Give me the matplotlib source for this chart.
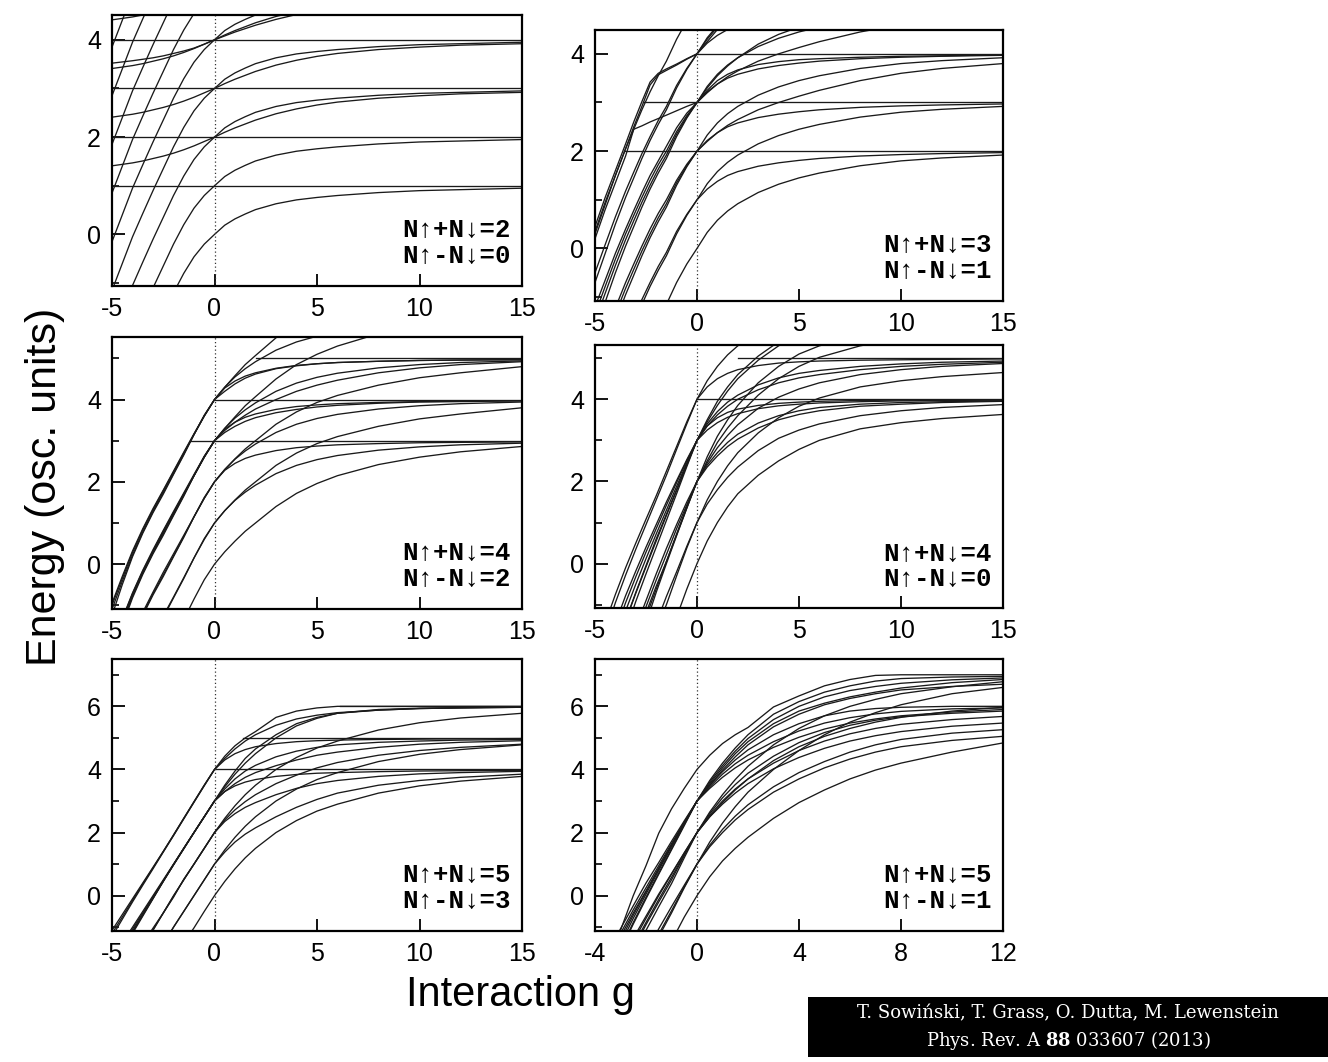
import matplotlib
matplotlib.use("Agg")
import matplotlib.pyplot as plt
from matplotlib.patches import Rectangle

plt.rcParams["font.family"] = ["Liberation Sans", "DejaVu Sans"]
plt.rcParams["axes.unicode_minus"] = False
plt.rcParams["mathtext.fontset"] = "custom"
plt.rcParams["mathtext.rm"] = "DejaVu Serif"
plt.rcParams["mathtext.bf"] = "DejaVu Serif:bold"

# ============================================================
# Data (energies)
# ============================================================
g_std = [-5, -4.5, -4, -3.5, -3, -2.5, -2, -1.5, -1, -0.5, 0, 0.5, 1, 1.5, 2, 3, 4, 5, 6, 8, 10, 12, 15]
g_tr = [-5, -4.5, -4, -3.5, -3.1, -2.7, -2.3, -1.9, -1.5, -1, -0.5, 0, 0.5, 1, 1.5, 2, 3, 4, 5, 6, 8, 10, 12, 15]
g_br = [-4, -3.5, -3, -2.5, -2, -1.5, -1, -0.5, 0, 0.5, 1, 1.5, 2, 3, 4, 5, 6, 7, 8, 10, 12]

# N=2, N_up-N_down=0
tl_curves = [
    [-4.15, -3.6, -3.05, -2.57, -2.1, -1.65, -1.2, -0.8, -0.46, -0.2, 0, 0.19, 0.32, 0.42, 0.51, 0.63, 0.71, 0.76, 0.8, 0.86, 0.9, 0.92, 0.95],
    [-3.15, -2.6, -2.05, -1.57, -1.1, -0.65, -0.2, 0.2, 0.54, 0.8, 1, 1.19, 1.32, 1.42, 1.51, 1.63, 1.71, 1.76, 1.8, 1.86, 1.9, 1.92, 1.95],
    [-2.15, -1.6, -1.05, -0.57, -0.1, 0.35, 0.8, 1.2, 1.54, 1.8, 2, 2.19, 2.32, 2.42, 2.51, 2.63, 2.71, 2.76, 2.8, 2.86, 2.9, 2.92, 2.95],
    [-1.15, -0.6, -0.05, 0.43, 0.9, 1.35, 1.8, 2.2, 2.54, 2.8, 3, 3.19, 3.32, 3.42, 3.51, 3.63, 3.71, 3.76, 3.8, 3.86, 3.9, 3.92, 3.95],
    [-0.15, 0.4, 0.95, 1.43, 1.9, 2.35, 2.8, 3.2, 3.54, 3.8, 4, 4.19, 4.32, 4.42, 4.51, 4.63, 4.71, 4.76, 4.8, 4.86, 4.9, 4.92, 4.95],
    [0.85, 1.4, 1.95, 2.43, 2.9, 3.35, 3.8, 4.2, 4.54, 4.8, 5, 5.19, 5.32, 5.42, 5.51, 5.63, 5.71, 5.76, 5.8, 5.86, 5.9, 5.92, 5.95],
    [1.85, 2.4, 2.95, 3.43, 3.9, 4.35, 4.8, 5.2, 5.54, 5.8, 6, 6.19, 6.32, 6.42, 6.51, 6.63, 6.71, 6.76, 6.8, 6.86, 6.9, 6.92, 6.95],
    [2.85, 3.4, 3.95, 4.43, 4.9, 5.35, 5.8, 6.2, 6.54, 6.8, 7, 7.19, 7.32, 7.42, 7.51, 7.63, 7.71, 7.76, 7.8, 7.86, 7.9, 7.92, 7.95],
    [3.85, 4.4, 4.95, 5.43, 5.9, 6.35, 6.8, 7.2, 7.54, 7.8, 8, 8.19, 8.32, 8.42, 8.51, 8.63, 8.71, 8.76, 8.8, 8.86, 8.9, 8.92, 8.95],
    [1.41, 1.44, 1.47, 1.51, 1.56, 1.61, 1.67, 1.74, 1.82, 1.91, 2.0, 2.1, 2.19, 2.27, 2.35, 2.48, 2.58, 2.66, 2.72, 2.8, 2.85, 2.89, 2.92],
    [2.41, 2.44, 2.47, 2.51, 2.56, 2.61, 2.67, 2.74, 2.82, 2.91, 3.0, 3.1, 3.19, 3.27, 3.35, 3.48, 3.58, 3.66, 3.72, 3.8, 3.85, 3.89, 3.92],
    [3.41, 3.44, 3.47, 3.51, 3.56, 3.61, 3.67, 3.74, 3.82, 3.91, 4.0, 4.1, 4.19, 4.27, 4.35, 4.48, 4.58, 4.66, 4.72, 4.8, 4.85, 4.89, 4.92],
    [4.41, 4.44, 4.47, 4.51, 4.56, 4.61, 4.67, 4.74, 4.82, 4.91, 5.0, 5.1, 5.19, 5.27, 5.35, 5.48, 5.58, 5.66, 5.72, 5.8, 5.85, 5.89, 5.92],
    [3.52, 3.545, 3.57, 3.6, 3.63, 3.67, 3.72, 3.77, 3.83, 3.91, 4.0, 4.08, 4.16, 4.23, 4.3, 4.42, 4.52, 4.6, 4.66, 4.75, 4.81, 4.85, 4.9],
]
tl_levels = [1, 2, 3, 4]
tl_level_from = [-5, -5, -5, -5]

# N=3, N_up-N_down=1
tr_curves = [
    [-4.7, -4.1, -3.5, -2.95, -2.55, -2.15, -1.78, -1.45, -1.15, -0.7, -0.32, 0, 0.33, 0.58, 0.77, 0.92, 1.15, 1.32, 1.45, 1.55, 1.7, 1.8, 1.86, 1.92],
    [-3.7, -3.1, -2.5, -1.95, -1.55, -1.15, -0.78, -0.45, -0.15, 0.3, 0.68, 1, 1.33, 1.58, 1.77, 1.92, 2.15, 2.32, 2.45, 2.55, 2.7, 2.8, 2.86, 2.92],
    [-3.5, -2.92, -2.35, -1.82, -1.43, -1.05, -0.7, -0.37, -0.08, 0.35, 0.7, 1, 1.22, 1.38, 1.5, 1.58, 1.69, 1.76, 1.81, 1.85, 1.9, 1.93, 1.95, 1.97],
    [-2.7, -2.1, -1.5, -0.95, -0.55, -0.15, 0.22, 0.55, 0.85, 1.3, 1.68, 2, 2.33, 2.58, 2.77, 2.92, 3.15, 3.32, 3.45, 3.55, 3.7, 3.8, 3.86, 3.92],
    [-2.5, -1.92, -1.35, -0.82, -0.43, -0.05, 0.3, 0.63, 0.92, 1.35, 1.7, 2, 2.22, 2.38, 2.5, 2.58, 2.69, 2.76, 2.81, 2.85, 2.9, 2.93, 2.95, 2.97],
    [-2.35, -1.78, -1.22, -0.7, -0.32, 0.05, 0.4, 0.72, 1.0, 1.4, 1.73, 2, 2.2, 2.38, 2.53, 2.65, 2.85, 3.0, 3.13, 3.25, 3.45, 3.6, 3.7, 3.8],
    [-1.7, -1.1, -0.5, 0.05, 0.45, 0.85, 1.22, 1.55, 1.85, 2.3, 2.68, 3, 3.33, 3.58, 3.77, 3.92, 4.15, 4.32, 4.45, 4.55, 4.7, 4.8, 4.86, 4.92],
    [-1.5, -0.92, -0.35, 0.18, 0.57, 0.95, 1.3, 1.63, 1.92, 2.35, 2.7, 3, 3.22, 3.38, 3.5, 3.58, 3.69, 3.76, 3.81, 3.85, 3.9, 3.93, 3.95, 3.97],
    [-1.35, -0.78, -0.22, 0.3, 0.68, 1.05, 1.4, 1.72, 2.0, 2.4, 2.73, 3, 3.2, 3.38, 3.53, 3.65, 3.85, 4.0, 4.13, 4.25, 4.45, 4.6, 4.7, 4.8],
    [-1.2, -0.65, -0.1, 0.4, 0.78, 1.15, 1.5, 1.8, 2.1, 2.48, 2.78, 3, 3.25, 3.45, 3.58, 3.67, 3.78, 3.84, 3.88, 3.9, 3.93, 3.95, 3.96, 3.98],
    [0.2, 0.8, 1.35, 1.9, 2.45, 2.52, 2.6, 2.67, 2.74, 2.83, 2.92, 3, 3.3, 3.55, 3.75, 3.92, 4.2, 4.4, 4.55, 4.65, 4.78, 4.85, 4.9, 4.93],
    [0.35, 0.95, 1.5, 2.05, 2.5, 2.92, 3.36, 3.57, 3.66, 3.77, 3.89, 4, 4.3, 4.55, 4.78, 5.0, 5.3, 5.5, 5.65, 5.75, 5.9, 6.0, 6.05, 6.1],
    [0.45, 1.05, 1.6, 2.15, 2.6, 3.02, 3.42, 3.6, 3.69, 3.79, 3.9, 4, 4.25, 4.5, 4.72, 4.9, 5.2, 5.4, 5.55, 5.65, 5.8, 5.9, 5.95, 6.0],
    [-0.7, -0.1, 0.5, 1.05, 1.45, 1.85, 2.22, 2.55, 2.85, 3.3, 3.68, 4, 4.33, 4.58, 4.77, 4.92, 5.15, 5.32, 5.45, 5.55, 5.7, 5.8, 5.86, 5.92],
    [-0.5, 0.08, 0.65, 1.18, 1.57, 1.95, 2.3, 2.63, 2.92, 3.35, 3.7, 4, 4.22, 4.38, 4.5, 4.58, 4.69, 4.76, 4.81, 4.85, 4.9, 4.93, 4.95, 4.97],
    [0.3, 0.9, 1.5, 2.05, 2.45, 2.85, 3.22, 3.55, 3.85, 4.3, 4.68, 5, 5.33, 5.58, 5.77, 5.92, 6.15, 6.32, 6.45, 6.55, 6.7, 6.8, 6.86, 6.92],
]
tr_levels = [2, 3, 4]
tr_level_from = [-3.6, -2.63, 0]

# N=4, N_up-N_down=2
ml_curves = [
    [-5.25, -4.5, -3.82, -3.25, -2.75, -2.3, -1.82, -1.35, -0.85, -0.38, 0, 0.3, 0.56, 0.8, 1.0, 1.4, 1.72, 1.96, 2.15, 2.42, 2.6, 2.73, 2.86],
    [-4.1, -3.42, -2.78, -2.22, -1.72, -1.26, -0.8, -0.33, 0.15, 0.6, 1, 1.3, 1.55, 1.75, 1.92, 2.2, 2.4, 2.54, 2.64, 2.77, 2.85, 2.9, 2.94],
    [-4.25, -3.5, -2.82, -2.25, -1.75, -1.3, -0.82, -0.35, 0.15, 0.62, 1, 1.3, 1.56, 1.8, 2.0, 2.4, 2.7, 2.93, 3.1, 3.35, 3.53, 3.65, 3.8],
    [-3.0, -2.35, -1.72, -1.17, -0.68, -0.2, 0.25, 0.7, 1.15, 1.6, 2, 2.28, 2.45, 2.57, 2.65, 2.76, 2.83, 2.87, 2.9, 2.93, 2.95, 2.96, 2.97],
    [-3.1, -2.42, -1.78, -1.22, -0.72, -0.26, 0.2, 0.67, 1.15, 1.6, 2, 2.3, 2.55, 2.75, 2.92, 3.2, 3.4, 3.54, 3.64, 3.77, 3.85, 3.9, 3.94],
    [-3.25, -2.5, -1.82, -1.25, -0.75, -0.3, 0.18, 0.65, 1.15, 1.62, 2, 2.3, 2.56, 2.8, 3.0, 3.4, 3.7, 3.93, 4.1, 4.35, 4.53, 4.65, 4.8],
    [-2.0, -1.35, -0.72, -0.17, 0.32, 0.8, 1.25, 1.7, 2.15, 2.6, 3, 3.2, 3.35, 3.47, 3.56, 3.68, 3.76, 3.82, 3.86, 3.91, 3.94, 3.95, 3.97],
    [-2.05, -1.4, -0.77, -0.2, 0.3, 0.78, 1.24, 1.7, 2.15, 2.6, 3, 3.28, 3.45, 3.57, 3.65, 3.76, 3.83, 3.87, 3.9, 3.93, 3.95, 3.96, 3.97],
    [-2.1, -1.42, -0.78, -0.22, 0.28, 0.74, 1.2, 1.67, 2.15, 2.6, 3, 3.3, 3.55, 3.75, 3.92, 4.2, 4.4, 4.54, 4.64, 4.77, 4.85, 4.9, 4.94],
    [-2.25, -1.5, -0.82, -0.25, 0.25, 0.7, 1.18, 1.65, 2.15, 2.62, 3, 3.3, 3.58, 3.85, 4.07, 4.5, 4.85, 5.1, 5.3, 5.6, 5.8, 5.9, 6.0],
    [-2.0, -1.33, -0.7, -0.15, 0.35, 0.82, 1.28, 1.73, 2.18, 2.62, 3, 3.25, 3.45, 3.62, 3.77, 4.0, 4.2, 4.35, 4.47, 4.65, 4.77, 4.85, 4.92],
    [-1.25, -0.5, 0.18, 0.75, 1.25, 1.7, 2.18, 2.65, 3.15, 3.62, 4, 4.3, 4.58, 4.85, 5.07, 5.5, 5.9, 6.2, 6.4, 6.7, 6.9, 7.0, 7.1],
    [-1.1, -0.42, 0.22, 0.78, 1.28, 1.74, 2.2, 2.67, 3.15, 3.6, 4, 4.3, 4.55, 4.75, 4.92, 5.2, 5.4, 5.54, 5.64, 5.77, 5.85, 5.9, 5.94],
    [-1.0, -0.35, 0.28, 0.83, 1.32, 1.78, 2.24, 2.7, 3.15, 3.6, 4, 4.28, 4.45, 4.57, 4.65, 4.76, 4.83, 4.87, 4.9, 4.93, 4.95, 4.96, 4.97],
    [-0.95, -0.3, 0.32, 0.86, 1.35, 1.8, 2.26, 2.72, 3.17, 3.6, 4, 4.2, 4.38, 4.52, 4.62, 4.75, 4.82, 4.87, 4.9, 4.93, 4.95, 4.96, 4.97],
]
ml_levels = [3, 4, 5]
ml_level_from = [-1.2, 0, 2]

# N=4, N_up-N_down=0
mr_curves = [
    [-8, -7, -6, -5, -4.1, -3.3, -2.6, -1.95, -1.3, -0.62, 0, 0.55, 1.0, 1.38, 1.7, 2.15, 2.5, 2.78, 3.0, 3.28, 3.43, 3.53, 3.63],
    [-6.3, -5.4, -4.5, -3.7, -2.9, -2.15, -1.45, -0.8, -0.2, 0.42, 1, 1.45, 1.8, 2.1, 2.35, 2.75, 3.05, 3.25, 3.4, 3.6, 3.72, 3.8, 3.87],
    [-7, -6, -5, -4, -3.1, -2.3, -1.6, -1.0, -0.3, 0.38, 1, 1.55, 2.0, 2.38, 2.7, 3.18, 3.55, 3.83, 4.03, 4.3, 4.45, 4.55, 4.65],
    [-5, -4.15, -3.3, -2.5, -1.75, -1.05, -0.4, 0.22, 0.85, 1.43, 2, 2.4, 2.7, 2.95, 3.15, 3.42, 3.6, 3.72, 3.8, 3.88, 3.92, 3.94, 3.96],
    [-5.3, -4.4, -3.55, -2.75, -2.0, -1.3, -0.62, 0.05, 0.72, 1.38, 2, 2.35, 2.62, 2.85, 3.03, 3.3, 3.5, 3.63, 3.72, 3.83, 3.88, 3.92, 3.95],
    [-6, -5, -4, -3.1, -2.25, -1.45, -0.7, 0.0, 0.68, 1.35, 2, 2.45, 2.82, 3.12, 3.38, 3.78, 4.05, 4.25, 4.4, 4.6, 4.72, 4.8, 4.87],
    [-4.6, -3.8, -3.0, -2.25, -1.55, -0.9, -0.25, 0.37, 0.95, 1.5, 2, 2.6, 3.1, 3.5, 3.85, 4.4, 4.8, 5.1, 5.3, 5.55, 5.7, 5.8, 5.9],
    [-5.2, -4.3, -3.45, -2.65, -1.9, -1.2, -0.55, 0.05, 0.7, 1.35, 2, 2.5, 2.95, 3.3, 3.6, 4.1, 4.5, 4.8, 5.02, 5.3, 5.47, 5.58, 5.7],
    [-3.7, -2.9, -2.1, -1.38, -0.7, -0.05, 0.6, 1.2, 1.8, 2.42, 3, 3.35, 3.55, 3.68, 3.76, 3.85, 3.9, 3.93, 3.95, 3.97, 3.98, 3.98, 3.99],
    [-3.4, -2.6, -1.85, -1.15, -0.5, 0.12, 0.72, 1.3, 1.88, 2.45, 3, 3.25, 3.43, 3.56, 3.65, 3.77, 3.84, 3.88, 3.91, 3.94, 3.96, 3.97, 3.98],
    [-3.2, -2.4, -1.65, -0.95, -0.32, 0.28, 0.85, 1.42, 1.97, 2.5, 3, 3.4, 3.7, 3.93, 4.1, 4.35, 4.52, 4.63, 4.7, 4.8, 4.86, 4.9, 4.93],
    [-3.0, -2.2, -1.45, -0.78, -0.18, 0.4, 0.95, 1.5, 2.02, 2.53, 3, 3.35, 3.62, 3.83, 4.0, 4.23, 4.4, 4.52, 4.6, 4.72, 4.8, 4.85, 4.9],
    [-4.2, -3.3, -2.45, -1.65, -0.92, -0.25, 0.4, 1.05, 1.7, 2.36, 3, 3.5, 3.95, 4.3, 4.6, 5.05, 5.4, 5.65, 5.8, 6.0, 6.1, 6.15, 6.2],
    [-3.8, -2.95, -2.15, -1.4, -0.72, -0.08, 0.55, 1.17, 1.78, 2.4, 3, 3.45, 3.85, 4.2, 4.5, 4.95, 5.3, 5.55, 5.7, 5.9, 6.0, 6.05, 6.1],
    [-2.5, -1.7, -0.95, -0.28, 0.35, 0.95, 1.55, 2.15, 2.78, 3.4, 4, 4.3, 4.5, 4.63, 4.72, 4.82, 4.88, 4.91, 4.93, 4.95, 4.96, 4.97, 4.98],
    [-2.2, -1.45, -0.75, -0.1, 0.5, 1.08, 1.65, 2.25, 2.85, 3.45, 4, 4.45, 4.8, 5.08, 5.3, 5.6, 5.8, 5.9, 5.95, 6, 6, 6, 6],
]
mr_levels = [4, 5]
mr_level_from = [0, 2]

# N=5, N_up-N_down=3
bl_curves = [
    [-5.3, -4.75, -4.2, -3.65, -3.1, -2.55, -2.0, -1.5, -1.02, -0.5, 0, 0.45, 0.85, 1.2, 1.5, 2.0, 2.38, 2.68, 2.9, 3.25, 3.48, 3.63, 3.78],
    [-4.1, -3.6, -3.08, -2.57, -2.05, -1.53, -1.0, -0.5, 0.0, 0.5, 1, 1.38, 1.7, 1.95, 2.15, 2.5, 2.8, 3.05, 3.25, 3.5, 3.65, 3.75, 3.85],
    [-4.3, -3.75, -3.2, -2.65, -2.1, -1.55, -1.0, -0.5, 0.0, 0.5, 1, 1.45, 1.85, 2.2, 2.5, 3.0, 3.38, 3.68, 3.9, 4.25, 4.48, 4.63, 4.78],
    [-3.0, -2.5, -2.0, -1.52, -1.03, -0.55, -0.05, 0.52, 1.0, 1.5, 2, 2.35, 2.6, 2.8, 2.95, 3.2, 3.4, 3.55, 3.65, 3.78, 3.86, 3.9, 3.94],
    [-3.2, -2.65, -2.12, -1.6, -1.08, -0.55, -0.02, 0.5, 1.0, 1.5, 2, 2.4, 2.72, 2.98, 3.2, 3.55, 3.82, 4.05, 4.22, 4.45, 4.6, 4.7, 4.8],
    [-3.3, -2.75, -2.2, -1.65, -1.1, -0.55, 0.0, 0.5, 1.0, 1.5, 2, 2.45, 2.85, 3.2, 3.5, 4.0, 4.38, 4.68, 4.9, 5.25, 5.48, 5.63, 5.78],
    [-2.0, -1.5, -1.0, -0.5, 0.0, 0.5, 1.0, 1.5, 2.0, 2.5, 3, 3.3, 3.48, 3.6, 3.68, 3.78, 3.84, 3.88, 3.9, 3.93, 3.95, 3.96, 3.97],
    [-2.2, -1.65, -1.12, -0.6, -0.08, 0.45, 0.97, 1.48, 2.0, 2.5, 3, 3.38, 3.7, 3.95, 4.13, 4.4, 4.58, 4.7, 4.78, 4.86, 4.9, 4.93, 4.95],
    [-2.1, -1.58, -1.06, -0.55, -0.04, 0.47, 0.98, 1.49, 2.0, 2.5, 3, 3.3, 3.55, 3.75, 3.9, 4.12, 4.3, 4.45, 4.55, 4.7, 4.8, 4.86, 4.91],
    [-2.3, -1.75, -1.2, -0.65, -0.1, 0.45, 0.98, 1.5, 2.0, 2.5, 3, 3.45, 3.85, 4.2, 4.5, 5.0, 5.38, 5.62, 5.78, 5.9, 5.94, 5.96, 5.98],
    [-2.25, -1.7, -1.16, -0.62, -0.08, 0.46, 0.99, 1.5, 2.0, 2.5, 3, 3.5, 3.95, 4.35, 4.65, 5.1, 5.45, 5.65, 5.78, 5.88, 5.93, 5.95, 5.97],
    [-1.1, -0.6, -0.1, 0.4, 0.9, 1.4, 1.92, 2.45, 2.98, 3.5, 4, 4.3, 4.5, 4.63, 4.72, 4.82, 4.88, 4.91, 4.93, 4.95, 4.96, 4.97, 4.98],
    [-1.2, -0.68, -0.15, 0.37, 0.88, 1.4, 1.92, 2.45, 2.97, 3.5, 4, 4.35, 4.65, 4.9, 5.1, 5.4, 5.6, 5.72, 5.8, 5.88, 5.93, 5.95, 5.97],
    [-1.3, -0.75, -0.2, 0.33, 0.85, 1.38, 1.9, 2.43, 2.96, 3.48, 4, 4.42, 4.75, 5.0, 5.2, 5.65, 5.85, 5.95, 6.0, 6.0, 6.0, 6.0, 6.0],
]
bl_levels = [4, 5, 6]
bl_level_from = [0, 1.4, 6.1]

# N=5, N_up-N_down=1
br_curves = [
    [-7, -6, -5, -4.1, -3.2, -2.35, -1.45, -0.68, 0, 0.6, 1.1, 1.5, 1.85, 2.45, 2.95, 3.35, 3.7, 3.98, 4.2, 4.55, 4.84],
    [-5.6, -4.7, -3.8, -2.95, -2.1, -1.3, -0.55, 0.25, 1, 1.55, 2.0, 2.4, 2.73, 3.28, 3.7, 4.05, 4.33, 4.55, 4.72, 4.92, 5.05],
    [-5.4, -4.5, -3.65, -2.82, -2.0, -1.22, -0.48, 0.28, 1, 1.6, 2.1, 2.52, 2.88, 3.45, 3.9, 4.25, 4.55, 4.78, 4.95, 5.15, 5.26],
    [-4.2, -3.35, -2.5, -1.7, -0.92, -0.2, 0.5, 1.27, 2, 2.5, 2.9, 3.25, 3.55, 4.02, 4.38, 4.67, 4.9, 5.07, 5.2, 5.37, 5.47],
    [-4.0, -3.2, -2.4, -1.6, -0.85, -0.12, 0.58, 1.3, 2, 2.55, 3.0, 3.38, 3.7, 4.2, 4.6, 4.9, 5.13, 5.3, 5.43, 5.58, 5.68],
    [-3.8, -3.0, -2.2, -1.45, -0.72, 0.0, 0.68, 1.35, 2, 2.6, 3.1, 3.52, 3.88, 4.42, 4.85, 5.17, 5.4, 5.56, 5.67, 5.78, 5.85],
    [-2.9, -2.1, -1.3, -0.55, 0.15, 0.88, 1.6, 2.3, 3, 3.4, 3.75, 4.05, 4.3, 4.7, 5.02, 5.28, 5.47, 5.6, 5.7, 5.82, 5.9],
    [-3.1, -2.25, -1.42, -0.62, 0.12, 0.85, 1.58, 2.3, 3, 3.45, 3.85, 4.18, 4.45, 4.88, 5.22, 5.47, 5.64, 5.76, 5.84, 5.92, 5.95],
    [-3.3, -2.4, -1.55, -0.72, 0.05, 0.8, 1.55, 2.28, 3, 3.5, 3.93, 4.3, 4.62, 5.1, 5.45, 5.7, 5.85, 5.93, 5.97, 6.0, 6.0],
    [-3.6, -2.65, -1.75, -0.9, -0.1, 0.68, 1.45, 2.22, 3, 3.55, 4.05, 4.5, 4.88, 5.45, 5.85, 6.1, 6.3, 6.45, 6.58, 6.75, 6.85],
    [-2.7, -1.95, -1.2, -0.45, 0.25, 0.95, 1.65, 2.33, 3, 3.6, 4.12, 4.58, 4.98, 5.58, 6.0, 6.3, 6.5, 6.63, 6.73, 6.84, 6.9],
    [-3.3, -2.2, -1.1, 0.0, 0.95, 1.98, 2.75, 3.4, 4, 4.45, 4.82, 5.1, 5.33, 5.98, 6.33, 6.65, 6.85, 6.98, 7.0, 7.0, 7.0],
    [-2.5, -1.8, -1.05, -0.32, 0.4, 1.05, 1.72, 2.37, 3, 3.65, 4.2, 4.68, 5.1, 5.75, 6.15, 6.45, 6.65, 6.8, 6.88, 6.93, 6.95],
    [-3.6, -2.85, -2.1, -1.35, -0.65, 0.05, 0.7, 1.36, 2, 2.65, 3.2, 3.68, 4.1, 4.78, 5.3, 5.7, 6.0, 6.22, 6.4, 6.62, 6.78],
    [-3.4, -2.55, -1.7, -0.85, -0.05, 0.72, 1.48, 2.25, 3, 3.5, 3.98, 4.4, 4.78, 5.35, 5.75, 6.05, 6.25, 6.4, 6.52, 6.63, 6.7],
    [-5.0, -4.2, -3.4, -2.6, -1.8, -1.05, -0.35, 0.33, 1, 1.7, 2.3, 2.82, 3.28, 4.0, 4.6, 5.1, 5.5, 5.8, 6.05, 6.4, 6.6],
    [-4.4, -3.55, -2.7, -1.9, -1.1, -0.35, 0.38, 1.2, 2, 2.5, 2.95, 3.35, 3.7, 4.28, 4.72, 5.05, 5.3, 5.5, 5.65, 5.85, 5.97],
]
br_levels = []
br_level_from = []

tl_label = ["N\u2191+N\u2193=2", "N\u2191-N\u2193=0"]
tr_label = ["N\u2191+N\u2193=3", "N\u2191-N\u2193=1"]
ml_label = ["N\u2191+N\u2193=4", "N\u2191-N\u2193=2"]
mr_label = ["N\u2191+N\u2193=4", "N\u2191-N\u2193=0"]
bl_label = ["N\u2191+N\u2193=5", "N\u2191-N\u2193=3"]
br_label = ["N\u2191+N\u2193=5", "N\u2191-N\u2193=1"]

ticks_g15 = [-5, 0, 5, 10, 15]
ticks_g12 = [-4, 0, 4, 8, 12]


# ============================================================
# Drawing helpers
# ============================================================
def draw_panel(rect, g, curves, levels, level_from, xlim, ylim, xticks, yticks, label):
    ax = fig.add_axes(rect)
    for e in curves:
        ax.plot(g, e, color="#1a1a1a", lw=0.95)
    for lev, g0 in zip(levels, level_from):
        ax.plot([g0, xlim[1]], [lev, lev], color="#1a1a1a", lw=0.95)
    ax.axvline(0, color="#333333", lw=0.9, ls=(0, (1, 2)))

    ax.set_xlim(*xlim)
    ax.set_ylim(*ylim)
    ax.set_xticks(xticks)
    ax.set_yticks(yticks)
    ax.set_yticks(range(-1, int(ylim[1]) + 1), minor=True)
    ax.tick_params(which="major", direction="in", length=9, width=1.3,
                   labelsize=18, pad=8, top=False, right=False)
    ax.tick_params(which="minor", direction="in", length=5, width=1.2,
                   top=False, right=False)
    for sp in ax.spines.values():
        sp.set_linewidth(1.6)

    mono = ["Liberation Mono", "DejaVu Sans Mono"]
    ax.text(0.972, 0.207, label[0], transform=ax.transAxes, ha="right", va="center",
            fontsize=18.5, fontweight="bold", family=mono)
    ax.text(0.972, 0.11, label[1], transform=ax.transAxes, ha="right", va="center",
            fontsize=18.5, fontweight="bold", family=mono)
    return ax


W, H = 1328, 1062
fig = plt.figure(figsize=(W / 100, H / 100), dpi=100)


def px_rect(x0, y0, x1, y1):
    return [x0 / W, 1 - y1 / H, (x1 - x0) / W, (y1 - y0) / H]


draw_panel(px_rect(112, 15, 522, 286), g_std, tl_curves, tl_levels, tl_level_from,
           (-5, 15), (-1.06, 4.51), ticks_g15, [0, 2, 4], tl_label)
draw_panel(px_rect(595, 30, 1003, 301), g_tr, tr_curves, tr_levels, tr_level_from,
           (-5, 15), (-1.08, 4.49), ticks_g15, [0, 2, 4], tr_label)
draw_panel(px_rect(112, 337, 522, 609), g_std, ml_curves, ml_levels, ml_level_from,
           (-5, 15), (-1.09, 5.52), ticks_g15, [0, 2, 4], ml_label)
draw_panel(px_rect(595, 345, 1003, 608), g_std, mr_curves, mr_levels, mr_level_from,
           (-5, 15), (-1.08, 5.32), ticks_g15, [0, 2, 4], mr_label)
draw_panel(px_rect(112, 659, 522, 931), g_std, bl_curves, bl_levels, bl_level_from,
           (-5, 15), (-1.12, 7.5), ticks_g15, [0, 2, 4, 6], bl_label)
draw_panel(px_rect(595, 659, 1003, 931), g_br, br_curves, br_levels, br_level_from,
           (-4, 12), (-1.12, 7.5), ticks_g12, [0, 2, 4, 6], br_label)

fig.text(45 / W, 1 - 487 / H, "Energy (osc. units)", rotation=90,
         ha="center", va="center", fontsize=31)
fig.text(520 / W, 1 - 995 / H, "Interaction g", ha="center", va="center", fontsize=30)

# citation box
fig.patches.append(Rectangle((808 / W, 1 - 1057 / H), 520 / W, 60 / H,
                             transform=fig.transFigure, facecolor="black",
                             edgecolor="none", zorder=0))
fig.text(1068 / W, 1 - 1013 / H, "T. Sowiński, T. Grass, O. Dutta, M. Lewenstein",
         ha="center", va="center", color="white", fontsize=13, family="DejaVu Serif")
fig.text(1068 / W, 1 - 1040 / H, r"Phys. Rev. A $\mathbf{88}$ 033607 (2013)",
         ha="center", va="center", color="white", fontsize=13, family="DejaVu Serif")

fig.savefig("out.png", dpi=100)
